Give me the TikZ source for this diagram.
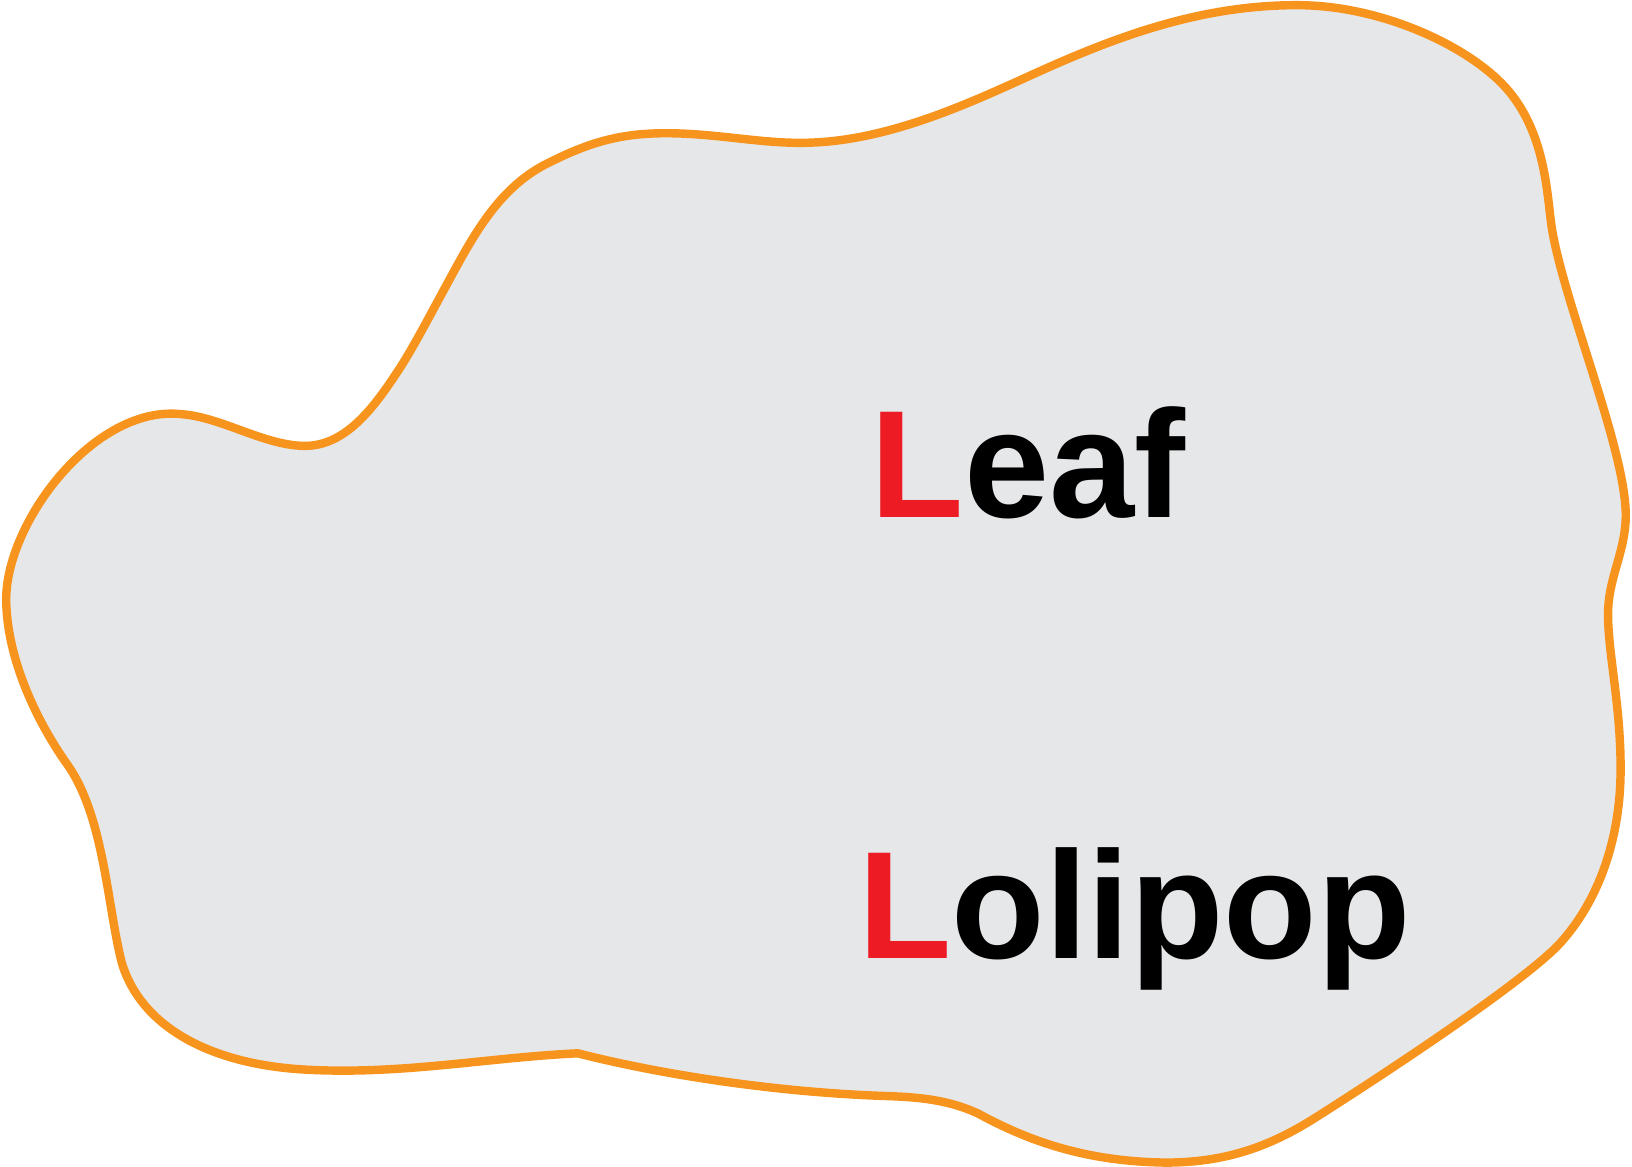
\documentclass[tikz,border=0pt]{standalone}
\usepackage{fontspec}
\setmainfont{Liberation Sans}
\definecolor{blobfill}{HTML}{E6E7E8}
\definecolor{bloborange}{HTML}{F7941D}
\definecolor{lred}{HTML}{ED1C24}
\begin{document}
\begin{tikzpicture}[x=0.01cm,y=-0.01cm,
  lbl/.style={anchor=base west,inner sep=0pt,font=\fontsize{41.8}{48}\selectfont\bfseries}]
\useasboundingbox (0,0) rectangle (1568,1121);
\draw[bloborange,line width=2.3pt,fill=blobfill,line join=round]
 (6,580) .. controls (3,505) and (90,388) .. (175,398)
 .. controls (215,401) and (260,432) .. (300,428)
 .. controls (335,424) and (360,390) .. (380,360)
 .. controls (395,338) and (412,305) .. (430,272)
 .. controls (455,226) and (480,178) .. (530,155)
 .. controls (570,135) and (600,128) .. (640,128)
 .. controls (690,128) and (735,139) .. (780,137)
 .. controls (860,134) and (940,95) .. (1000,68)
 .. controls (1080,32) and (1160,4) .. (1250,5)
 .. controls (1330,6) and (1415,46) .. (1450,88)
 .. controls (1483,128) and (1486,180) .. (1490,212)
 .. controls (1498,280) and (1562,430) .. (1562,495)
 .. controls (1562,530) and (1545,555) .. (1545,590)
 .. controls (1545,630) and (1558,680) .. (1557,745)
 .. controls (1556,800) and (1540,860) .. (1500,905)
 .. controls (1468,941) and (1330,1032) .. (1262,1075)
 .. controls (1222,1100) and (1180,1117) .. (1120,1117)
 .. controls (1050,1116) and (995,1100) .. (940,1070)
 .. controls (910,1056) and (880,1054) .. (850,1053)
 .. controls (760,1050) and (650,1036) .. (555,1012)
 .. controls (470,1016) and (390,1032) .. (300,1028)
 .. controls (200,1024) and (135,985) .. (117,925)
 .. controls (103,870) and (100,785) .. (65,735)
 .. controls (40,700) and (8,640) .. cycle;
\node[lbl] (leaf) at (836,497) {\textcolor{lred}{L}eaf};
\node[lbl] (loli) at (824,921) {\textcolor{lred}{L}olipop};
\end{tikzpicture}
\end{document}
